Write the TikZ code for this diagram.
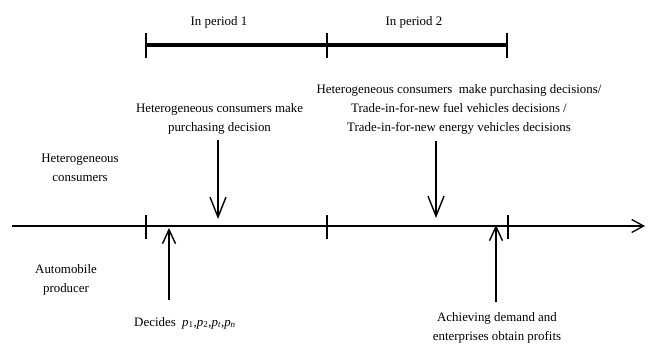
\documentclass[tikz,border=0pt]{standalone}
\usepackage{fontspec}
\setmainfont{Liberation Serif}
\usetikzlibrary{arrows.meta}
\begin{document}
\begin{tikzpicture}[x=1pt,y=-1pt,
  lbl/.style={font=\fontsize{12.9}{19}\selectfont, align=center, inner sep=0pt},
  thickbar/.style={line width=3.6pt},
  tickmark/.style={line width=1.3pt},
  axisline/.style={line width=1.3pt, -{Straight Barb[length=12pt,width=13pt,line width=1.3pt]}},
  downarr/.style={line width=1.4pt, -{Straight Barb[length=20pt,width=16pt,line width=1.4pt]}},
  uparr/.style={line width=1.4pt, -{Straight Barb[length=14pt,width=13pt,line width=1.4pt]}}
]
\useasboundingbox (0,0) rectangle (648,343);
% top period bar
\coordinate (b0) at (146,45);
\coordinate (b1) at (327,45);
\coordinate (b2) at (507,45);
\draw[thickbar] (b0) -- (b2);
\foreach \c in {b0,b1,b2} \draw[tickmark] ([yshift=-13pt]\c) -- ([yshift=12pt]\c);
\node[lbl] (per1) at (219,22) {In period 1};
\node[lbl] (per2) at (414,22) {In period 2};
% main axis
\coordinate (a0) at (12,226);
\coordinate (a1) at (645,226);
\draw[axisline] (a0) -- (a1);
\coordinate (t0) at (146,226);
\coordinate (t1) at (327,226);
\coordinate (t2) at (508,226);
\foreach \c in {t0,t1,t2} \draw[tickmark] ([yshift=-13pt]\c) -- ([yshift=11pt]\c);
% labels
\node[lbl] (cons) at (80,167.5) {Heterogeneous\\consumers};
\node[lbl] (prod) at (66,279.5) {Automobile\\producer};
\node[lbl] (dec1) at (219.5,118.5) {Heterogeneous consumers make\\purchasing decision};
\node[lbl] (dec2) at (459,109) {Heterogeneous consumers\ \ make purchasing decisions/\\Trade-in-for-new fuel vehicles decisions /\\Trade-in-for-new energy vehicles decisions};
\node[lbl] (decides) at (185,323) {Decides\ \ {\itshape p}\textsubscript{1},{\itshape p}\textsubscript{2},{\itshape p}\textsubscript{\itshape t},{\itshape p}\textsubscript{\itshape n}};
\node[lbl] (achieve) at (497,327.5) {Achieving demand and\\enterprises obtain profits};
% arrows
\coordinate (d1s) at (218,140);
\coordinate (d1e) at (218,219);
\coordinate (d2s) at (436,141);
\coordinate (d2e) at (436,218);
\coordinate (u1s) at (169,300);
\coordinate (u1e) at (169,228);
\coordinate (u2s) at (496,302);
\coordinate (u2e) at (496,225);
\draw[downarr] (d1s) -- (d1e);
\draw[downarr] (d2s) -- (d2e);
\draw[uparr] (u1s) -- (u1e);
\draw[uparr] (u2s) -- (u2e);
\end{tikzpicture}
\end{document}
